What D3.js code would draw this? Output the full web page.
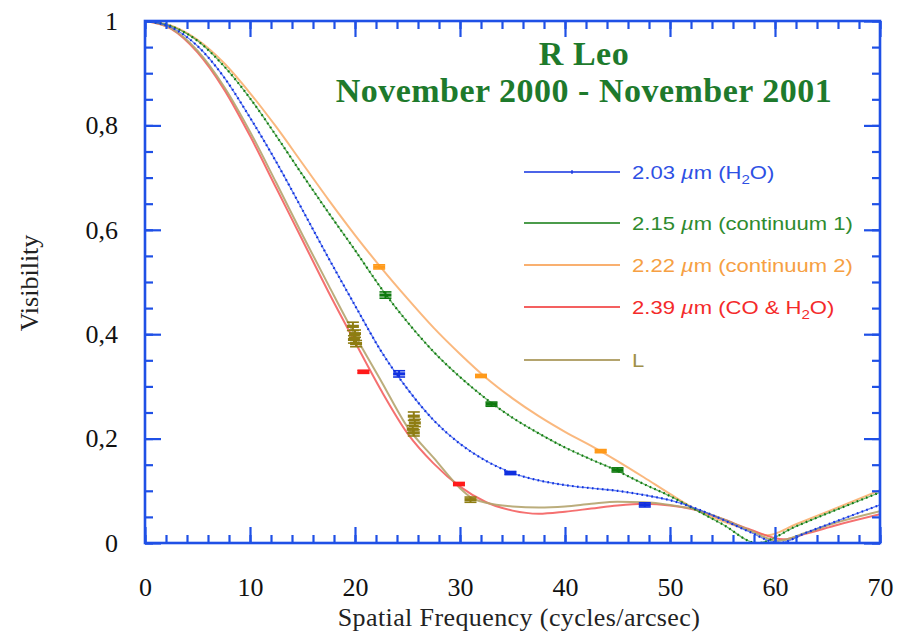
<!DOCTYPE html>
<html>
<head>
<meta charset="utf-8">
<script src="https://cdn.jsdelivr.net/npm/d3@7"></script>
<style>
  html, body { margin: 0; padding: 0; background: #fff; }
  svg { display: block; }
</style>
</head>
<body>
<svg id="chart" width="902" height="639"></svg>
<script>
// Visibility model curves: [spatial frequency (cycles/arcsec), visibility]
const curve203 = [[0,1],[2.5,0.988],[5,0.952],[7.5,0.893],[10,0.815],[12.5,0.73],[15,0.638],[17.5,0.545],[20,0.455],[22.5,0.367],[25,0.295],[27.5,0.235],[30,0.19],[32.5,0.157],[35,0.134],[37.5,0.12],[40,0.111],[42.5,0.105],[45,0.1],[47.5,0.092],[50,0.082],[52.5,0.066],[55,0.045],[57.5,0.022],[60.4,0.0],[63,0.02],[66,0.043],[70,0.073]];
const curve215 = [[0,1],[2.5,0.99],[5,0.962],[7.5,0.914],[10,0.852],[12.5,0.78],[15,0.705],[17.5,0.632],[20,0.561],[22.5,0.488],[25,0.423],[27.5,0.366],[30,0.318],[32.5,0.276],[35,0.24],[37.5,0.21],[40,0.183],[42.5,0.16],[45,0.138],[47.5,0.113],[50,0.09],[52.5,0.063],[55,0.036],[58.3,0.0],[62,0.032],[66,0.065],[70,0.097]];
const curve222 = [[0,1],[2.5,0.991],[5,0.964],[7.5,0.92],[10,0.862],[12.5,0.797],[15,0.727],[17.5,0.657],[20,0.59],[22.5,0.527],[25,0.468],[27.5,0.412],[30,0.362],[32.5,0.316],[35,0.277],[37.5,0.243],[40,0.213],[42.5,0.186],[45,0.157],[47.5,0.126],[50,0.094],[52.5,0.064],[55,0.042],[57.5,0.025],[59.3,0.015],[62,0.036],[65,0.06],[70,0.101]];
const curve239 = [[0,1],[2.5,0.985],[5,0.94],[7.5,0.87],[10,0.78],[12.5,0.68],[15,0.58],[17.5,0.48],[20,0.385],[22.5,0.292],[25,0.21],[27.5,0.152],[30,0.108],[32.5,0.078],[35,0.062],[37.5,0.056],[40,0.06],[42.5,0.066],[45,0.072],[47.5,0.075],[50,0.072],[52.5,0.063],[55,0.046],[57.5,0.027],[60.8,0.007],[63,0.018],[66,0.035],[70,0.055]];
const curveL = [[0,1],[2.5,0.986],[5,0.943],[7.5,0.875],[10,0.788],[12.5,0.69],[15,0.59],[17.5,0.493],[20,0.398],[22.5,0.31],[25,0.222],[27.5,0.163],[30,0.105],[31,0.088],[32.5,0.077],[35,0.07],[37.5,0.068],[40,0.07],[42.5,0.075],[45,0.079],[47.5,0.078],[50,0.073],[52.5,0.064],[55,0.046],[57.5,0.025],[60.3,0.004],[63,0.02],[66,0.04],[70,0.061]];

// Measured visibilities: [frequency, visibility, error]
const points203 = [[24.2,0.324,0.006],[34.8,0.134,0.003],[47.6,0.073,0.004]];
const points215 = [[22.9,0.475,0.006],[33.0,0.266,0.004],[45.0,0.140,0.004]];
const points222 = [[22.3,0.529,0.004],[32.0,0.320,0.003],[43.4,0.176,0.003]];
const points239 = [[20.8,0.328,0.003],[29.9,0.113,0.003]];
const pointsL = [[19.8,0.415,0.008],[20.0,0.401,0.007],[19.9,0.390,0.007],[20.1,0.382,0.006],
                 [25.6,0.243,0.008],[25.7,0.230,0.007],[25.5,0.218,0.007],[25.6,0.211,0.006],
                 [31.0,0.083,0.005]];

// Axis ticks
const xMajorTicks = [0,10,20,30,40,50,60,70];
const xMinorTicks = d3.range(0, 70.01, 2);
const yMajorTicks = [0,0.2,0.4,0.6,0.8,1];
const yMinorTicks = d3.range(0, 1.001, 0.05);

// Legend entries: [text, style] pieces
const legendNames = ["2.03", "2.15", "2.22", "2.39", "L"];
const legendText = [
  [["2.03 "], ["µ", "it"], ["m (H"], ["2", "sub"], ["O)", "up"]],
  [["2.15 "], ["µ", "it"], ["m (continuum 1)"]],
  [["2.22 "], ["µ", "it"], ["m (continuum 2)"]],
  [["2.39 "], ["µ", "it"], ["m (CO & H"], ["2", "sub"], ["O)", "up"]],
  [["L"]]
];

const series = [
  {name:"2.03", curve:curve203, pts:points203, line:"#3158ea", dot:"#1030e0", text:"#2d50e4", beaded:true},
  {name:"2.15", curve:curve215, pts:points215, line:"#3c9a3c", dot:"#0f7a0f", text:"#2e8b2e", beaded:true},
  {name:"2.22", curve:curve222, pts:points222, line:"#f9b070", dot:"#ff9a1a", text:"#f6a043", beaded:false},
  {name:"2.39", curve:curve239, pts:points239, line:"#f46060", dot:"#ff1a1a", text:"#f42a2a", beaded:false},
  {name:"L",    curve:curveL,   pts:pointsL,   line:"#b4a46e", dot:"#8e7d12", text:"#a0904a", beaded:false}
];

const svg = d3.select("#chart");
const padL = 145, padT = 21, padR = 880, padB = 543;
const x = d3.scaleLinear().domain([0,70]).range([padL, padR]);
const y = d3.scaleLinear().domain([0,1]).range([padB, padT]);
const axisColor = "#1f50e6";

const plot = svg.append("g");
plot.append("clipPath").attr("id","clip").append("rect")
  .attr("x", padL).attr("y", padT - 2).attr("width", padR - padL).attr("height", padB - padT + 2);

const line = d3.line().x(d => x(d[0])).y(d => y(d[1])).curve(d3.curveMonotoneX);

// Lighter series first so the beaded curves sit on top
const order = ["2.22","2.39","L","2.15","2.03"];
const curves = plot.append("g").attr("clip-path","url(#clip)");
order.forEach(n => {
  const s = series.find(d => d.name === n);
  if (s.beaded) {
    curves.append("path").attr("d", line(s.curve)).attr("fill","none")
      .attr("stroke", s.line).attr("stroke-width", 1.3).attr("opacity", 0.75);
    curves.append("path").attr("d", line(s.curve)).attr("fill","none")
      .attr("stroke", s.dot).attr("stroke-width", 2.2).attr("stroke-dasharray","1.6,3.4");
  } else {
    curves.append("path").attr("d", line(s.curve)).attr("fill","none")
      .attr("stroke", s.line).attr("stroke-width", 2).attr("opacity", 0.9);
  }
});

// Error-bar markers
series.forEach(s => {
  const g = plot.append("g");
  s.pts.forEach(p => {
    const cx = x(p[0]), cy = y(p[1]), y1 = y(p[1] + p[2]), y2 = y(p[1] - p[2]);
    g.append("line").attr("x1", cx).attr("x2", cx).attr("y1", y1).attr("y2", y2)
      .attr("stroke", s.dot).attr("stroke-width", 2);
    [y1, y2].forEach(yy => g.append("line").attr("x1", cx - 6).attr("x2", cx + 6)
      .attr("y1", yy).attr("y2", yy).attr("stroke", s.dot).attr("stroke-width", 1.6));
    g.append("line").attr("x1", cx - 6).attr("x2", cx + 6).attr("y1", cy).attr("y2", cy)
      .attr("stroke", s.dot).attr("stroke-width", 3.2);
  });
});

// Frame and inward ticks on all four sides
const fmtY = d => d === 0 ? "0" : d === 1 ? "1" : d3.format(".1f")(d).replace(".", ",");
function styleAxis(g) {
  g.select(".domain").remove();
  g.selectAll(".tick line").attr("stroke", axisColor).attr("stroke-width", 2.2);
  g.selectAll(".tick text").attr("fill", "#111").attr("font-family", "Liberation Serif, Times New Roman, serif").attr("font-size", 26);
}
svg.append("g").attr("transform", `translate(0,${padB})`)
  .call(d3.axisBottom(x).tickValues(xMinorTicks).tickSize(-8).tickFormat("")).call(styleAxis);
svg.append("g").attr("transform", `translate(0,${padB})`)
  .call(d3.axisBottom(x).tickValues(xMajorTicks).tickSize(-16).tickPadding(35).tickFormat(d3.format("d"))).call(styleAxis);
svg.append("g").attr("transform", `translate(0,${padT})`)
  .call(d3.axisTop(x).tickValues(xMinorTicks).tickSize(-8).tickFormat("")).call(styleAxis);
svg.append("g").attr("transform", `translate(0,${padT})`)
  .call(d3.axisTop(x).tickValues(xMajorTicks).tickSize(-16).tickFormat("")).call(styleAxis);
svg.append("g").attr("transform", `translate(${padL},0)`)
  .call(d3.axisLeft(y).tickValues(yMinorTicks).tickSize(-8).tickFormat("")).call(styleAxis);
svg.append("g").attr("transform", `translate(${padL},0)`)
  .call(d3.axisLeft(y).tickValues(yMajorTicks).tickSize(-16).tickPadding(27).tickFormat(fmtY)).call(styleAxis);
svg.append("g").attr("transform", `translate(${padR},0)`)
  .call(d3.axisRight(y).tickValues(yMinorTicks).tickSize(-8).tickFormat("")).call(styleAxis);
svg.append("g").attr("transform", `translate(${padR},0)`)
  .call(d3.axisRight(y).tickValues(yMajorTicks).tickSize(-16).tickFormat("")).call(styleAxis);
svg.append("rect").attr("x", padL).attr("y", padT).attr("width", padR - padL).attr("height", padB - padT)
  .attr("fill", "none").attr("stroke", axisColor).attr("stroke-width", 2.6);

// Axis titles
svg.append("text").attr("x", 519).attr("y", 626).attr("text-anchor", "middle")
  .attr("font-family", "Liberation Serif, Times New Roman, serif").attr("font-size", 26)
  .attr("letter-spacing", 0.4).attr("fill", "#222")
  .text("Spatial Frequency (cycles/arcsec)");
svg.append("text").attr("transform", "translate(38,283) rotate(-90)").attr("text-anchor", "middle")
  .attr("font-family", "Liberation Serif, Times New Roman, serif").attr("font-size", 26).attr("fill", "#222")
  .text("Visibility");

// Title
const title = svg.append("g").attr("font-family", "Liberation Serif, Times New Roman, serif")
  .attr("font-weight", "bold").attr("fill", "#1e7a2c").attr("text-anchor", "middle");
title.append("text").attr("x", 584).attr("y", 65).attr("font-size", 34).attr("letter-spacing", 0.5).text("R Leo");
title.append("text").attr("x", 584).attr("y", 102).attr("font-size", 34).attr("letter-spacing", 0.5).text("November 2000 - November 2001");

// Legend
const legendY = [172, 223, 265, 307, 360];
legendNames.forEach((name, i) => {
  const s = series.find(d => d.name === name);
  const ly = legendY[i];
  svg.append("line").attr("x1", 524).attr("x2", 620).attr("y1", ly).attr("y2", ly)
    .attr("stroke", s.beaded ? s.dot : s.line).attr("stroke-width", s.beaded ? 1.6 : 2);
  if (i === 0) {
    svg.append("line").attr("x1", 572).attr("x2", 572).attr("y1", ly - 2).attr("y2", ly + 2)
      .attr("stroke", s.dot).attr("stroke-width", 1.2);
  }
  const tg = svg.append("g").attr("transform", `translate(632,${ly + 6.5}) scale(1.26,1)`);
  const t = tg.append("text").attr("font-family", "Liberation Sans, Arial, sans-serif")
    .attr("font-size", 17.5).attr("fill", s.text);
  legendText[i].forEach(part => {
    const ts = t.append("tspan").text(part[0]);
    if (part[1] === "it") ts.attr("font-style", "italic");
    if (part[1] === "sub") ts.attr("font-size", 12).attr("dy", 5);
    if (part[1] === "up") ts.attr("dy", -5);
  });
});
</script>
</body>
</html>
